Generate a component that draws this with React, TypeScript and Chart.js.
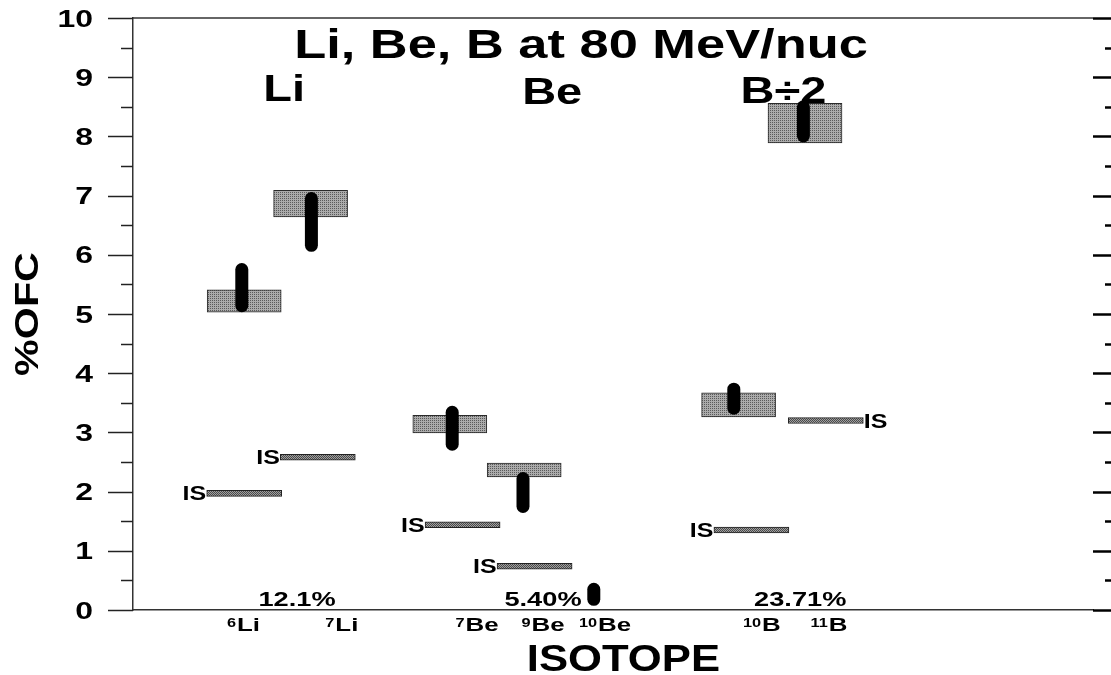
import React, { useEffect, useRef } from "react";
import { Chart, registerables } from "chart.js";

Chart.register(...registerables);

// ---------- data ----------
// x positions are in plot units (0..12 across the frame), y values in %OFC
const isoMass = ["6", "7", "7", "9", "10", "10", "11"];
const isoElem = ["Li", "Li", "Be", "Be", "Be", "B", "B"];
const isoLabelX = [1.38, 2.61, 4.3, 5.125, 5.9, 7.86, 8.7];

// gray stippled boxes
const boxX = [1.39, 2.22, 3.96, 4.89, 7.57, 8.4];
const boxLow = [5.03, 6.64, 2.99, 2.25, 3.26, 7.89];
const boxHigh = [5.41, 7.09, 3.29, 2.48, 3.67, 8.56];

// black measurement bars
const barX = [1.36, 2.23, 3.99, 4.875, 5.76, 7.51, 8.38];
const barLow = [5.14, 6.16, 2.8, 1.75, 0.18, 3.41, 8.01];
const barHigh = [5.75, 6.95, 3.34, 2.22, 0.35, 3.73, 8.5];

// "IS" reference lines
const isX = [1.39, 2.31, 4.12, 5.02, 7.73, 8.66];
const isY = [1.97, 2.58, 1.44, 0.74, 1.35, 3.2];
const isSide = ["left", "left", "left", "left", "left", "right"];

// percentages along the bottom
const pctText = ["12.1%", "5.40%", "23.71%"];
const pctX = [2.05, 5.125, 8.34];

// element group headers
const groupText = ["Li", "Be", "B÷2"];
const groupX = [1.89, 5.24, 8.13];
const groupY = [8.6, 8.55, 8.57];

const yTicks = [0, 1, 2, 3, 4, 5, 6, 7, 8, 9, 10];
const titleText = "Li, Be, B at 80 MeV/nuc";
const xTitle = "ISOTOPE";
const yTitle = "%OFC";

const FONT = '"Liberation Sans", Arial, Helvetica, sans-serif';

function makePattern(light: string, dark: string, dense: boolean): CanvasPattern | string {
  const c = document.createElement("canvas");
  c.width = 2;
  c.height = 2;
  const g = c.getContext("2d");
  if (!g) return light;
  g.fillStyle = light;
  g.fillRect(0, 0, 2, 2);
  g.fillStyle = dark;
  g.fillRect(0, 0, 1, 1);
  if (dense) g.fillRect(1, 1, 1, 1);
  const p = g.createPattern(c, "repeat");
  return p || light;
}

function drawText(
  ctx: CanvasRenderingContext2D,
  str: string,
  x: number,
  y: number,
  size: number,
  sx: number,
  align: CanvasTextAlign = "center"
) {
  ctx.save();
  ctx.translate(x, y);
  ctx.scale(sx, 1);
  ctx.font = `bold ${size}px ${FONT}`;
  ctx.textAlign = align;
  ctx.textBaseline = "alphabetic";
  ctx.fillStyle = "#000";
  ctx.fillText(str, 0, 0);
  ctx.restore();
}

function measure(ctx: CanvasRenderingContext2D, str: string, size: number) {
  ctx.save();
  ctx.font = `bold ${size}px ${FONT}`;
  const w = ctx.measureText(str).width;
  ctx.restore();
  return w;
}

const decorPlugin = {
  id: "decor",
  afterDraw(chart: any) {
    const ctx: CanvasRenderingContext2D = chart.ctx;
    const xs = chart.scales.x;
    const ys = chart.scales.y;
    const { left, right, top, bottom } = chart.chartArea;

    ctx.save();
    // top frame line
    ctx.strokeStyle = "#333";
    ctx.lineWidth = 1.5;
    ctx.beginPath();
    ctx.moveTo(left, top);
    ctx.lineTo(right, top);
    ctx.stroke();

    // ticks
    for (let v = 0; v <= 10.001; v += 0.5) {
      const py = Math.round(ys.getPixelForValue(v)) + 0.5;
      const major = Math.abs(v - Math.round(v)) < 1e-6;
      ctx.strokeStyle = "#222";
      ctx.lineWidth = 1.5;
      ctx.beginPath();
      ctx.moveTo(left - (major ? 25 : 12), py);
      ctx.lineTo(left, py);
      ctx.stroke();
      ctx.strokeStyle = "#000";
      ctx.lineWidth = 2.5;
      ctx.beginPath();
      ctx.moveTo(right + (major ? 0 : 12), py);
      ctx.lineTo(right + 18, py);
      ctx.stroke();
    }
    ctx.restore();

    // y tick labels
    yTicks.forEach((v) => {
      drawText(ctx, String(v), left - 40, ys.getPixelForValue(v) + 8.5, 24, 1.33, "right");
    });

    // title & headers
    drawText(ctx, titleText, xs.getPixelForValue(5.6), top + 40, 40, 1.31);
    groupText.forEach((t, i) => {
      drawText(ctx, t, xs.getPixelForValue(groupX[i]), ys.getPixelForValue(groupY[i]), 37, 1.27);
    });

    // IS labels
    isX.forEach((x, i) => {
      const px = xs.getPixelForValue(x);
      const py = ys.getPixelForValue(isY[i]) + 7;
      if (isSide[i] === "left") drawText(ctx, "IS", px - 38, py, 20, 1.25, "right");
      else drawText(ctx, "IS", px + 38, py, 20, 1.25, "left");
    });

    // percentages
    pctText.forEach((t, i) => {
      drawText(ctx, t, xs.getPixelForValue(pctX[i]), bottom - 4, 20, 1.36);
    });

    // isotope tick labels with superscript mass numbers
    const sx = 1.36;
    isoLabelX.forEach((x, i) => {
      const cx = xs.getPixelForValue(x);
      const w1 = measure(ctx, isoMass[i], 12) * sx;
      const w2 = measure(ctx, isoElem[i], 19) * sx;
      const start = cx - (w1 + w2 + 1) / 2;
      drawText(ctx, isoMass[i], start, bottom + 17, 12, sx, "left");
      drawText(ctx, isoElem[i], start + w1 + 1, bottom + 21, 19, sx, "left");
    });

    // axis titles
    drawText(ctx, xTitle, xs.getPixelForValue(6.13), bottom + 61, 37, 1.18);
    ctx.save();
    ctx.translate(38, (top + bottom) / 2);
    ctx.rotate(-Math.PI / 2);
    ctx.scale(1.25, 1);
    ctx.font = `bold 33px ${FONT}`;
    ctx.textAlign = "center";
    ctx.textBaseline = "alphabetic";
    ctx.fillStyle = "#000";
    ctx.fillText(yTitle, 0, 0);
    ctx.restore();
  },
};

export default function App() {
  const ref = useRef<HTMLCanvasElement | null>(null);

  useEffect(() => {
    const canvas = ref.current;
    if (!canvas) return;
    const boxFill = makePattern("#ababab", "#5a5a5a", false);
    const isFill = makePattern("#a0a0a0", "#4a4a4a", true);

    const datasets: any[] = [];
    datasets.push({
      type: "bar",
      data: boxX.map((x, i) => ({ x, y: [boxLow[i], boxHigh[i]] })),
      backgroundColor: boxFill,
      borderColor: "#2a2a2a",
      borderWidth: 1,
      borderSkipped: false,
      barThickness: 74,
      grouped: false,
      order: 2,
    });
    datasets.push({
      type: "bar",
      data: isX.map((x, i) => ({ x, y: [isY[i] - 0.05, isY[i] + 0.05] })),
      backgroundColor: isFill,
      borderColor: "#222",
      borderWidth: 1,
      borderSkipped: false,
      barThickness: 75,
      grouped: false,
      order: 2,
    });
    barX.forEach((x, i) => {
      datasets.push({
        type: "line",
        data: [
          { x, y: barLow[i] },
          { x, y: barHigh[i] },
        ],
        borderColor: "#000",
        borderWidth: 13,
        borderCapStyle: "round",
        pointRadius: 0,
        fill: false,
        order: 0,
      });
    });

    const chart = new Chart(canvas, {
      type: "bar",
      data: { datasets },
      options: {
        animation: false,
        responsive: false,
        devicePixelRatio: 1,
        layout: { padding: { top: 18, right: 18, left: 0, bottom: 0 } },
        plugins: {
          legend: { display: false },
          tooltip: { enabled: false },
          title: { display: false },
        },
        scales: {
          x: {
            type: "linear",
            min: 0,
            max: 12,
            offset: false,
            grid: { display: false, drawTicks: false },
            ticks: { display: false },
            border: { display: true, color: "#333", width: 1.5 },
            afterFit: (s: any) => {
              s.height = 65;
            },
          },
          y: {
            type: "linear",
            min: 0,
            max: 10,
            grid: { display: false, drawTicks: false },
            ticks: { display: false },
            border: { display: true, color: "#333", width: 1.5 },
            afterFit: (s: any) => {
              s.width = 133;
            },
          },
        },
      } as any,
      plugins: [decorPlugin],
    });
    return () => chart.destroy();
  }, []);

  return (
    <div style={{ position: "fixed", left: 0, top: 0, width: 1111, height: 675, background: "#fff" }}>
      <canvas ref={ref} width={1111} height={675} style={{ display: "block" }} />
    </div>
  );
}
